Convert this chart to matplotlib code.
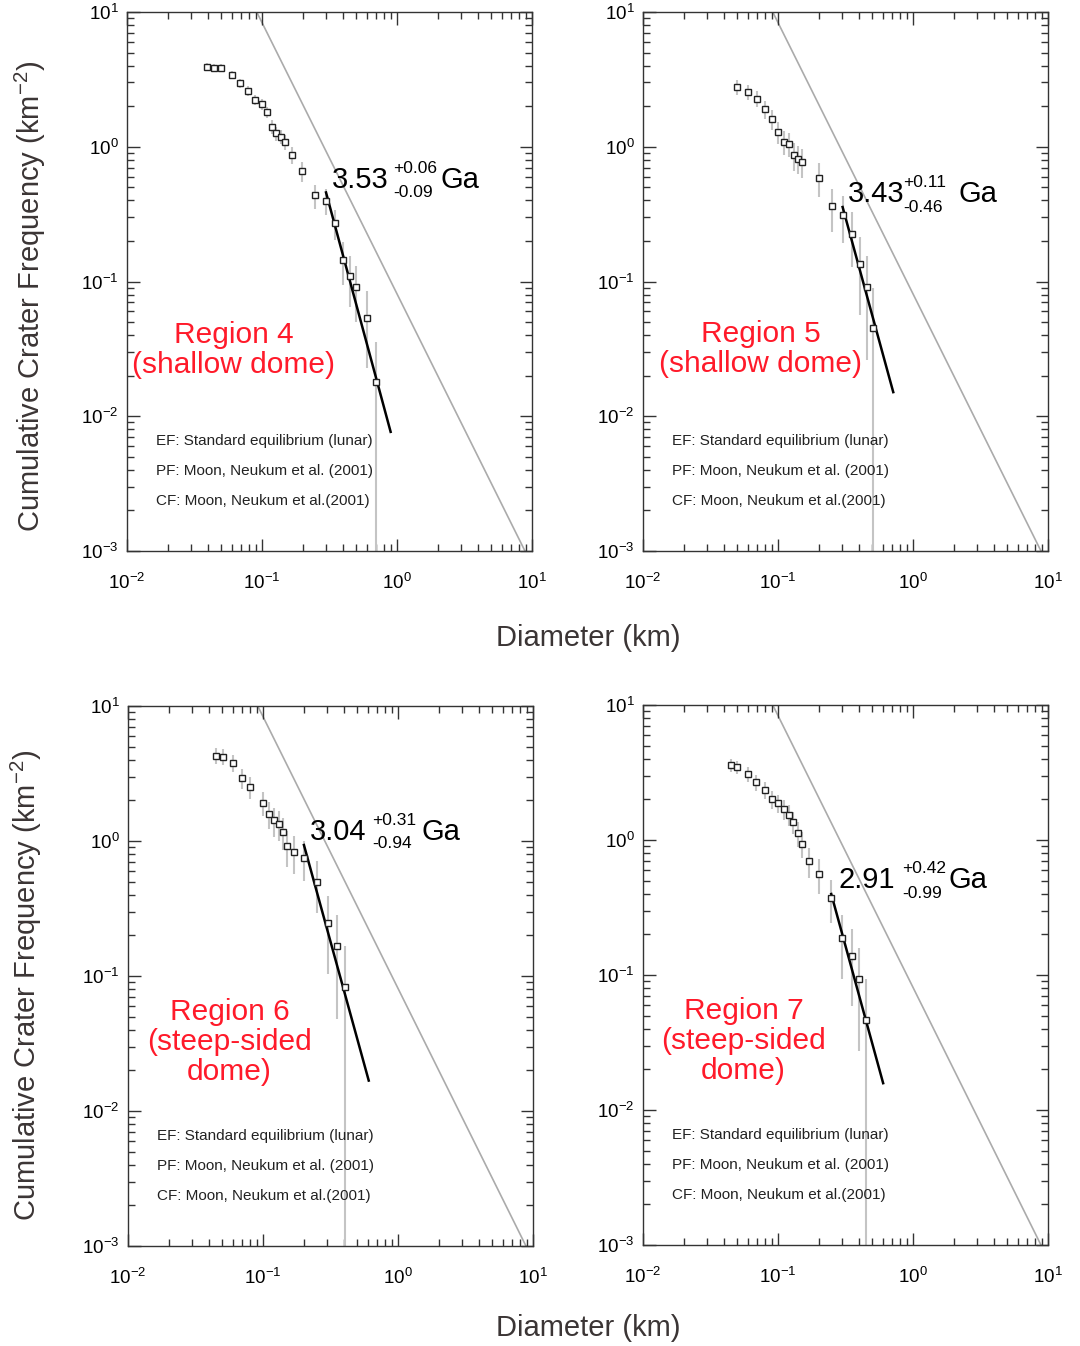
import numpy as np
import matplotlib
matplotlib.use("Agg")
import matplotlib.pyplot as plt
from matplotlib.ticker import LogLocator, NullFormatter

plt.rcParams['font.family'] = ['Liberation Sans', 'DejaVu Sans']
plt.rcParams['mathtext.fontset'] = 'custom'
plt.rcParams['mathtext.rm'] = 'Liberation Sans'
plt.rcParams['mathtext.it'] = 'Liberation Sans:italic'
plt.rcParams['mathtext.bf'] = 'Liberation Sans:bold'
plt.rcParams['axes.unicode_minus'] = False

# --- crater size-frequency data (D in km, N in km^-2) ---
r4_d = [0.0394, 0.0443, 0.0494, 0.0597, 0.0687, 0.0793, 0.0888, 0.0995, 0.109, 0.119,
        0.128, 0.138, 0.149, 0.168, 0.198, 0.248, 0.298, 0.349, 0.396, 0.449, 0.497,
        0.596, 0.695]
r4_n = [3.92, 3.87, 3.87, 3.41, 2.98, 2.60, 2.24, 2.07, 1.81, 1.41, 1.26, 1.19, 1.09,
        0.873, 0.656, 0.435, 0.398, 0.272, 0.145, 0.109, 0.0908, 0.0538, 0.0179]
r4_err = [0.067, 0.068, 0.068, 0.072, 0.077, 0.083, 0.089, 0.093, 0.099, 0.113, 0.119,
          0.122, 0.128, 0.143, 0.165, 0.204, 0.213, 0.258, 0.354, 0.408, 0.447, 0.577, 1.0]

r5_d = [0.050, 0.060, 0.0699, 0.0801, 0.0903, 0.100, 0.110, 0.120, 0.131, 0.141, 0.151,
        0.202, 0.251, 0.301, 0.353, 0.405, 0.456, 0.506]
r5_n = [2.78, 2.55, 2.28, 1.91, 1.60, 1.28, 1.09, 1.05, 0.863, 0.818, 0.770, 0.589,
        0.361, 0.313, 0.227, 0.135, 0.0903, 0.0449]
r5_err = [0.127, 0.133, 0.14, 0.153, 0.167, 0.187, 0.203, 0.207, 0.228, 0.234, 0.241,
          0.276, 0.35, 0.378, 0.44, 0.58, 0.71, 1.0]

r6_d = [0.0452, 0.0502, 0.0604, 0.0699, 0.0801, 0.1007, 0.1107, 0.120, 0.1306, 0.1406,
        0.1517, 0.170, 0.2014, 0.251, 0.303, 0.353, 0.405]
r6_n = [4.29, 4.22, 3.79, 2.94, 2.51, 1.92, 1.59, 1.42, 1.34, 1.17, 0.918, 0.834, 0.752,
        0.50, 0.248, 0.166, 0.0829]
r6_err = [0.139, 0.14, 0.148, 0.168, 0.182, 0.208, 0.228, 0.242, 0.248, 0.266, 0.30,
          0.315, 0.33, 0.41, 0.58, 0.71, 1.0]

r7_d = [0.0446, 0.0497, 0.0598, 0.0693, 0.080, 0.090, 0.0997, 0.110, 0.120, 0.130, 0.141,
        0.150, 0.169, 0.200, 0.248, 0.299, 0.351, 0.399, 0.452]
r7_n = [3.57, 3.47, 3.08, 2.67, 2.34, 2.01, 1.87, 1.69, 1.54, 1.36, 1.12, 0.94, 0.699,
        0.562, 0.374, 0.187, 0.139, 0.0929, 0.0464]
r7_err = [0.114, 0.116, 0.123, 0.132, 0.141, 0.152, 0.158, 0.166, 0.174, 0.185, 0.204,
          0.222, 0.258, 0.288, 0.354, 0.5, 0.577, 0.707, 1.0]

# production-function fits (end points)
r4_fit_d = [0.298, 0.897]
r4_fit_n = [0.458, 0.00766]
r5_fit_d = [0.301, 0.714]
r5_fit_n = [0.357, 0.0151]
r6_fit_d = [0.201, 0.607]
r6_fit_n = [0.934, 0.0168]
r7_fit_d = [0.248, 0.601]
r7_fit_n = [0.398, 0.0158]

# standard lunar equilibrium line
eq_d = [0.0914, 8.87]
eq_n = [10.0, 0.001]

region_names = ["Region 4\n(shallow dome)", "Region 5\n(shallow dome)",
                "Region 6\n(steep-sided\ndome)", "Region 7\n(steep-sided\ndome)"]
ages = ["3.53", "3.43", "3.04", "2.91"]
age_plus = ["+0.06", "+0.11", "+0.31", "+0.42"]
age_minus = ["-0.09", "-0.46", "-0.94", "-0.99"]
notes = ["EF: Standard equilibrium (lunar)",
         "PF: Moon, Neukum et al. (2001)",
         "CF: Moon, Neukum et al.(2001)"]

W, H = 1080, 1346
fig = plt.figure(figsize=(W / 100, H / 100), dpi=100)

# axes boxes in pixels: left, top, right, bottom
boxes = [(127, 12, 532, 551), (643, 12, 1048, 551),
         (128, 706, 533, 1246), (643, 705, 1048, 1245)]

# age label placement (axes fractions): main x, main baseline, sup x, sup y, sub y, Ga x
age_pos = [(0.505, 0.673, 0.657, 0.701, 0.657, 0.773),
           (0.506, 0.647, 0.642, 0.675, 0.629, 0.778),
           (0.449, 0.752, 0.602, 0.780, 0.737, 0.724),
           (0.483, 0.661, 0.640, 0.689, 0.643, 0.754)]
name_pos = [(0.264, 0.373), (0.291, 0.375), (0.251, 0.378), (0.248, 0.378)]

panels = [(r4_d, r4_n, r4_err, r4_fit_d, r4_fit_n),
          (r5_d, r5_n, r5_err, r5_fit_d, r5_fit_n),
          (r6_d, r6_n, r6_err, r6_fit_d, r6_fit_n),
          (r7_d, r7_n, r7_err, r7_fit_d, r7_fit_n)]

red = '#ff1a2a'

for i, (d, n, err, fd, fn) in enumerate(panels):
    l, t, r, b = boxes[i]
    ax = fig.add_axes([l / W, 1 - b / H, (r - l) / W, (b - t) / H])
    ax.set_xscale('log')
    ax.set_yscale('log')
    ax.set_xlim(1e-2, 1e1)
    ax.set_ylim(1e-3, 1e1)

    d = np.array(d)
    n = np.array(n)
    err = np.array(err)
    # a point with a single crater has its lower error bar running off the axis
    lo = np.where(err >= 1.0, 1e-6, n * (1 - err))
    hi = n * (1 + err)

    ax.plot(eq_d, eq_n, color='#ababab', lw=1.2, zorder=1)
    ax.vlines(d, lo, hi, color='#c4c4c4', lw=1.5, zorder=2)
    ax.plot(fd, fn, color='black', lw=1.8, zorder=3)
    ax.plot(d, n, ls='none', marker='s', ms=5, mfc='white', mec='#222222',
            mew=1.0, zorder=4)

    # ticks
    ax.xaxis.set_major_locator(LogLocator(base=10, numticks=10))
    ax.yaxis.set_major_locator(LogLocator(base=10, numticks=10))
    ax.xaxis.set_minor_locator(LogLocator(base=10, subs=np.arange(2, 10), numticks=20))
    ax.yaxis.set_minor_locator(LogLocator(base=10, subs=np.arange(2, 10), numticks=20))
    ax.xaxis.set_minor_formatter(NullFormatter())
    ax.yaxis.set_minor_formatter(NullFormatter())
    ax.tick_params(which='both', direction='in', top=True, right=True,
                   color='#333333', labelsize=13.5)
    ax.tick_params(which='major', length=9, width=1.0)
    ax.tick_params(which='minor', length=5, width=1.0)
    ax.tick_params(axis='x', which='major', pad=16)
    ax.tick_params(axis='y', which='major', pad=6)
    for sp in ax.spines.values():
        sp.set_color('#333333')
        sp.set_linewidth(1.0)

    # age label
    mx, my, sx, sy, by, gx = age_pos[i]
    ax.text(mx, my, ages[i], transform=ax.transAxes, fontsize=21, va='baseline')
    ax.text(sx, sy, age_plus[i], transform=ax.transAxes, fontsize=12.5, va='baseline')
    ax.text(sx, by, age_minus[i], transform=ax.transAxes, fontsize=12.5, va='baseline')
    ax.text(gx, my, "Ga", transform=ax.transAxes, fontsize=21, va='baseline')

    # region label
    nx, ny = name_pos[i]
    ax.text(nx, ny, region_names[i], transform=ax.transAxes, color=red, fontsize=21.5,
            ha='center', va='center', multialignment='center', linespacing=1.08)

    # legend notes
    for k, s in enumerate(notes):
        ax.text(0.071, 0.204 - 0.056 * k, s, transform=ax.transAxes, fontsize=11,
                color='#222222', va='center')

label_color = '#3b3535'
ylab = "Cumulative Crater Frequency (km$^{-2}$)"
fig.text(30 / W, 1 - 296 / H, ylab, rotation=90, ha='center', va='center',
         fontsize=21, color=label_color)
fig.text(26 / W, 1 - 985 / H, ylab, rotation=90, ha='center', va='center',
         fontsize=21, color=label_color)
fig.text(588 / W, 1 - 638 / H, "Diameter (km)", ha='center', va='center',
         fontsize=21, color=label_color)
fig.text(588 / W, 1 - 1328 / H, "Diameter (km)", ha='center', va='center',
         fontsize=21, color=label_color)

fig.savefig("out.png", dpi=100, facecolor='white')
